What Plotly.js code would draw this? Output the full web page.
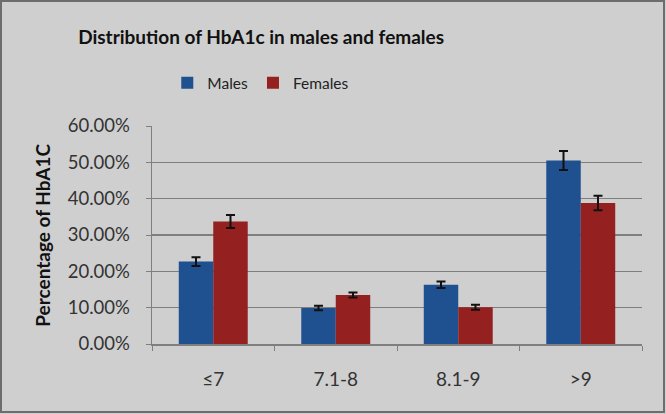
<!DOCTYPE html>
<html>
<head>
<meta charset="utf-8">
<script src="https://cdn.plot.ly/plotly-3.0.1.min.js"></script>
<style>
html,body{margin:0;padding:0;background:#cfcfcf;}
#wrap{position:absolute;left:0;top:0;width:661px;height:409px;border:2px solid #6d6d6d;}
#chart{width:661px;height:409px;}
</style>
</head>
<body>
<div id="wrap"><div id="chart"></div></div>
<script>
const categories = ["≤7", "7.1-8", "8.1-9", ">9"];
const males = [0.227, 0.099, 0.163, 0.505];
const malesErr = [0.012, 0.006, 0.009, 0.026];
const females = [0.337, 0.135, 0.101, 0.388];
const femalesErr = [0.018, 0.007, 0.007, 0.020];
const yTickVals = [0, 0.1, 0.2, 0.3, 0.4, 0.5, 0.6];

const font = "Lato, 'Open Sans', sans-serif";

const traces = [
  {type:"bar", name:"Males", x:categories, y:males,
   marker:{color:"#1f5090"},
   error_y:{type:"data", array:malesErr, visible:true, color:"#111", thickness:2, width:4.5}},
  {type:"bar", name:"Females", x:categories, y:females,
   marker:{color:"#952020"},
   error_y:{type:"data", array:femalesErr, visible:true, color:"#111", thickness:2, width:4.5}}
];

const layout = {
  width:661, height:409,
  paper_bgcolor:"#cfcfcf", plot_bgcolor:"#cfcfcf",
  margin:{l:150, r:21, t:124, b:67},
  font:{family:font, color:"#333"},
  title:{text:"<b>Distribution of HbA1c in males and females</b>",
         font:{family:font, size:19, color:"#111"},
         xref:"container", x:0.392, xanchor:"center",
         yref:"container", y:0.913, yanchor:"middle"},
  showlegend:true,
  legend:{orientation:"h", x:0.222, xanchor:"center", y:1.197, yanchor:"middle",
          font:{family:font, size:15.5, color:"#222"}, bgcolor:"rgba(0,0,0,0)",
          itemwidth:30, traceorder:"normal"},
  barmode:"group", bargap:0.437, bargroupgap:0,
  xaxis:{type:"category", tickson:"boundaries", ticks:"outside", ticklen:5,
         tickcolor:"#7f7f7f", showline:true, linecolor:"#7f7f7f", linewidth:1.5,
         showgrid:false, tickfont:{family:font, size:19, color:"#333"},
         ticklabelstandoff:18},
  yaxis:{range:[0,0.6], tickvals:yTickVals, tickformat:".2%", ticks:"outside", ticklen:5,
         tickcolor:"#7f7f7f", showline:true, linecolor:"#7f7f7f", linewidth:1.5,
         gridcolor:"#7f7f7f", gridwidth:1.5, zeroline:false,
         tickfont:{family:font, size:18.5, color:"#333"}, ticklabelstandoff:12},
  annotations:[{text:"<b>Percentage of HbA1C</b>", textangle:-90, xref:"paper", yref:"paper",
                x:-0.225, y:0.5, xanchor:"center", yanchor:"middle", showarrow:false,
                font:{family:font, size:19, color:"#111"}}]
};

Plotly.newPlot("chart", traces, layout, {displayModeBar:false, staticPlot:true});
</script>
</body>
</html>
